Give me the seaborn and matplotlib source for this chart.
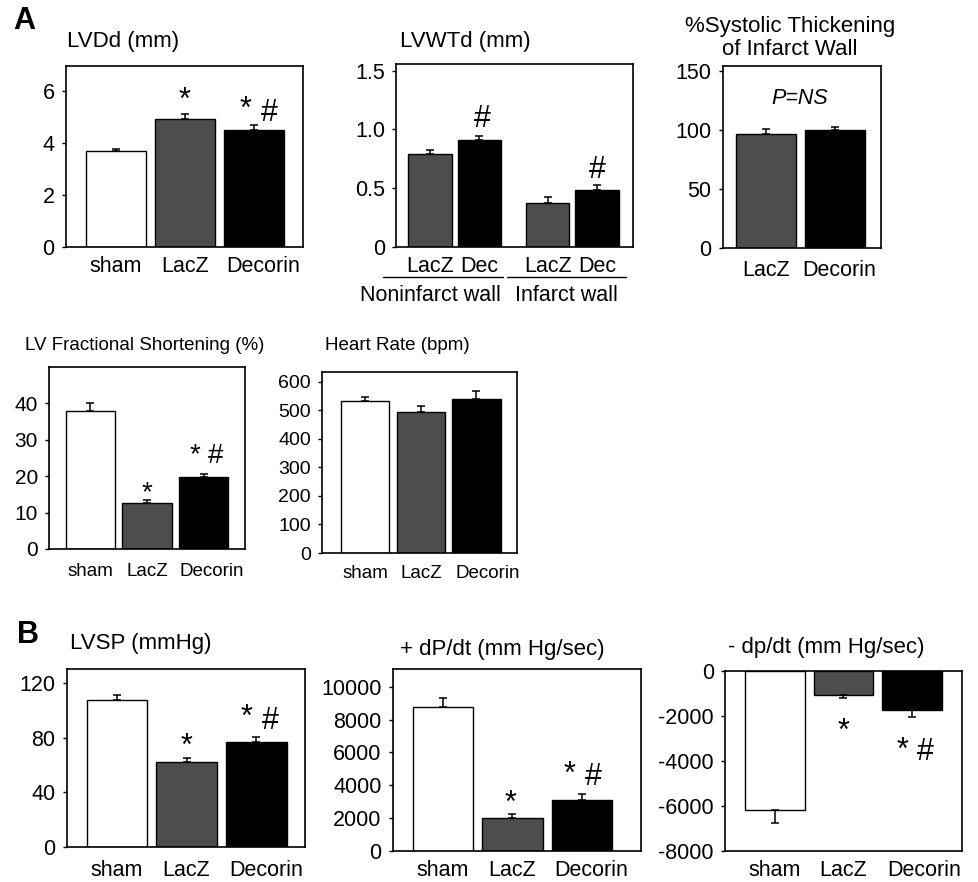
import numpy as np
import pandas as pd
import matplotlib
matplotlib.use("Agg")
import matplotlib.pyplot as plt
import matplotlib.transforms as mtrans
import seaborn as sns

sns.set_theme(style="ticks")
plt.rcParams["font.family"] = ["Liberation Sans", "DejaVu Sans"]
plt.rcParams["axes.unicode_minus"] = False
plt.rcParams["text.color"] = "black"
plt.rcParams["xtick.color"] = "black"
plt.rcParams["ytick.color"] = "black"
plt.rcParams["axes.edgecolor"] = "black"

# data (mean, upper/lower error)
groups = ["sham", "LacZ", "Decorin"]
lvdd = [3.68, 4.92, 4.50]
lvdd_err = [0.06, 0.20, 0.19]

lvwtd_wall = ["Noninfarct wall", "Noninfarct wall", "Infarct wall", "Infarct wall"]
lvwtd_treat = ["LacZ", "Dec", "LacZ", "Dec"]
lvwtd = [0.79, 0.91, 0.375, 0.48]
lvwtd_err = [0.03, 0.035, 0.05, 0.045]

thick_groups = ["LacZ", "Decorin"]
thick = [96.5, 99.8]
thick_err = [4.5, 3.0]

fs = [37.8, 12.6, 19.8]
fs_err = [2.2, 0.9, 0.9]

hr = [535, 496, 541]
hr_err = [14, 21, 27]

lvsp = [107.6, 62.3, 76.6]
lvsp_err = [3.2, 2.9, 3.6]

dpdt_pos = [8780, 1975, 3090]
dpdt_pos_err = [550, 245, 385]

dpdt_neg = [-6190, -1070, -1740]
dpdt_neg_err = [595, 150, 300]

colors = {"sham": "white", "LacZ": "#4d4d4d", "Decorin": "black", "Dec": "black"}

W, H = 979, 882
fig = plt.figure(figsize=(W / 100, H / 100), dpi=100)
fig.patch.set_facecolor("white")


def new_ax(x0, y0, x1, y1):
    # pixel box -> figure fraction
    return fig.add_axes([x0 / W, 1 - y1 / H, (x1 - x0) / W, (y1 - y0) / H])


def sorted_bars(ax):
    return sorted(ax.patches, key=lambda p: p.get_x())


def add_err(ax, errs):
    ps = sorted_bars(ax)
    xs = [p.get_x() + p.get_width() / 2 for p in ps]
    ys = [p.get_y() + p.get_height() for p in ps]
    lo = [e if y < 0 else 0 for y, e in zip(ys, errs)]
    hi = [0 if y < 0 else e for y, e in zip(ys, errs)]
    ax.errorbar(xs, ys, yerr=[lo, hi], fmt="none", ecolor="black",
                elinewidth=1.1, capsize=3, capthick=1.1, zorder=3)


def bars(ax, cats, vals, errs):
    sns.barplot(x=cats, y=vals, hue=cats, order=cats, hue_order=cats,
                palette=colors, saturation=1, width=0.87, edgecolor="black",
                linewidth=1.0, legend=False, ax=ax)
    add_err(ax, errs)


def mark(ax, i, errs, text, dx, dy, size=22):
    p = sorted_bars(ax)[i]
    x = p.get_x() + p.get_width() / 2
    y = p.get_y() + p.get_height()
    y = y + errs[i] if y >= 0 else y - errs[i]
    ax.annotate(text, (x, y), xytext=(dx, dy), textcoords="offset points",
                ha="center", va="baseline", fontsize=size)


def style(ax, fsz, yticks, ylabels=None, yfsz=None, shift=7, pad=7):
    for s in ax.spines.values():
        s.set_linewidth(1.2)
        s.set_color("black")
    ax.set_yticks(yticks)
    if ylabels is not None:
        ax.set_yticklabels(ylabels)
    ax.tick_params(axis="y", length=3, width=1, pad=5, labelsize=yfsz or fsz)
    ax.tick_params(axis="x", length=0, pad=pad, labelsize=fsz)
    ax.set_xlabel("")
    ax.set_ylabel("")
    # the last category label sits a little right of its bar in the original
    labs = ax.get_xticklabels()
    if shift and labs:
        lab = labs[-1]
        lab.set_transform(lab.get_transform()
                          + mtrans.ScaledTranslation(shift / 72, 0, fig.dpi_scale_trans))


def title(x, y, s, size, ha="left", **kw):
    fig.text(x / W, 1 - y / H, s, ha=ha, va="center", fontsize=size, **kw)


# ---- A: LVDd
ax1 = new_ax(65.7, 65.7, 302.7, 246.7)
bars(ax1, groups, lvdd, lvdd_err)
ax1.set_xlim(-0.725, 2.71)
ax1.set_ylim(0, 6.96)
style(ax1, 15.5, [0, 2, 4, 6])
mark(ax1, 1, lvdd_err, "*", 0, 3)
mark(ax1, 2, lvdd_err, "*", -6, 5)
mark(ax1, 2, lvdd_err, "#", 11.5, 3)

# ---- A: LVWTd
ax2 = new_ax(396, 64, 633, 246.7)
df2 = pd.DataFrame({"wall": lvwtd_wall, "treat": lvwtd_treat, "val": lvwtd})
sns.barplot(data=df2, x="wall", y="val", hue="treat",
            order=["Noninfarct wall", "Infarct wall"], hue_order=["LacZ", "Dec"],
            palette=colors, saturation=1, width=0.84, gap=0.12,
            edgecolor="black", linewidth=1.0, legend=False, ax=ax2)
add_err(ax2, lvwtd_err)
ax2.set_xlim(-0.5, 1.516)
ax2.set_ylim(0, 1.557)
centers = [p.get_x() + p.get_width() / 2 for p in sorted_bars(ax2)]
ax2.set_xticks(centers)
ax2.set_xticklabels(lvwtd_treat)
style(ax2, 15.5, [0, 0.5, 1.0, 1.5], ["0", "0.5", "1.0", "1.5"], shift=0, pad=6.5)
tr = mtrans.blended_transform_factory(ax2.transData, ax2.transAxes)
for (a, b), tx, lab in [((-0.61, 0.41), -0.21, "Noninfarct wall"),
                        ((0.445, 1.46), 0.95, "Infarct wall")]:
    ax2.plot([a, b], [-0.165, -0.165], transform=tr, color="black", lw=1.0, clip_on=False)
    ax2.text(tx, -0.265, lab, transform=tr, ha="center", va="center", fontsize=15.5)
mark(ax2, 1, lvwtd_err, "#", 2, 6)
mark(ax2, 3, lvwtd_err, "#", 0, 5)

# ---- A: % systolic thickening
ax3 = new_ax(722.7, 65.7, 881, 247.7)
bars(ax3, thick_groups, thick, thick_err)
ax3.set_xlim(-0.635, 1.67)
ax3.set_ylim(0, 154.5)
style(ax3, 15.5, [0, 50, 100, 150], shift=3, pad=9)
ax3.text(0.49, 127, "P=NS", ha="center", va="center", fontsize=15.5, style="italic")

# ---- A: fractional shortening
ax4 = new_ax(49, 367, 245, 549)
bars(ax4, groups, fs, fs_err)
ax4.set_xlim(-0.73, 2.73)
ax4.set_ylim(0, 50)
style(ax4, 13.5, [0, 10, 20, 30, 40], yfsz=15, shift=6, pad=10)
mark(ax4, 1, fs_err, "*", 0, 0, size=20)
mark(ax4, 2, fs_err, "*", -6, 8.5, size=20)
mark(ax4, 2, fs_err, "#", 8.3, 7.5, size=20)

# ---- A: heart rate
ax5 = new_ax(322, 372, 517, 553)
bars(ax5, groups, hr, hr_err)
ax5.set_xlim(-0.78, 2.73)
ax5.set_ylim(0, 635)
style(ax5, 13.5, [0, 100, 200, 300, 400, 500, 600], yfsz=14, shift=8, pad=8.5)

# ---- B: LVSP
ax6 = new_ax(66.7, 669, 305, 847.3)
bars(ax6, groups, lvsp, lvsp_err)
ax6.set_xlim(-0.72, 2.7)
ax6.set_ylim(0, 130)
style(ax6, 15.5, [0, 40, 80, 120], pad=9)
mark(ax6, 1, lvsp_err, "*", 0, 2)
mark(ax6, 2, lvsp_err, "*", -7, 8)
mark(ax6, 2, lvsp_err, "#", 10, 6)

# ---- B: +dP/dt
ax7 = new_ax(392.7, 669, 641, 850.7)
bars(ax7, groups, dpdt_pos, dpdt_pos_err)
ax7.set_xlim(-0.72, 2.85)
ax7.set_ylim(0, 11080)
style(ax7, 15.5, [0, 2000, 4000, 6000, 8000, 10000], pad=7)
mark(ax7, 1, dpdt_pos_err, "*", -1.4, 2)
mark(ax7, 2, dpdt_pos_err, "*", -9, 8)
mark(ax7, 2, dpdt_pos_err, "#", 8, 6)

# ---- B: -dp/dt
ax8 = new_ax(725, 671, 961.7, 850.7)
bars(ax8, groups, dpdt_neg, dpdt_neg_err)
ax8.set_xlim(-0.73, 2.73)
ax8.set_ylim(-8000, 0)
style(ax8, 15.5, [-8000, -6000, -4000, -2000, 0], shift=9, pad=6.5)
mark(ax8, 1, dpdt_neg_err, "*", 0, -30)
mark(ax8, 2, dpdt_neg_err, "*", -7, -30)
mark(ax8, 2, dpdt_neg_err, "#", 10, -31)

# titles and panel letters
title(13, 21, "A", 22, fontweight="bold")
title(17, 635, "B", 22, fontweight="bold")
title(67, 41, "LVDd (mm)", 16)
title(400, 41, "LVWTd (mm)", 16)
title(790, 38, "%Systolic Thickening\nof Infarct Wall", 16, ha="center",
      multialignment="center", linespacing=1.15)
title(25, 345, "LV Fractional Shortening (%)", 13.5)
title(325, 345, "Heart Rate (bpm)", 13.5)
title(70, 643, "LVSP (mmHg)", 16)
title(400, 649, "+ dP/dt (mm Hg/sec)", 16)
title(728, 648, "- dp/dt (mm Hg/sec)", 16)

fig.savefig("out.png", dpi=100, facecolor="white")
